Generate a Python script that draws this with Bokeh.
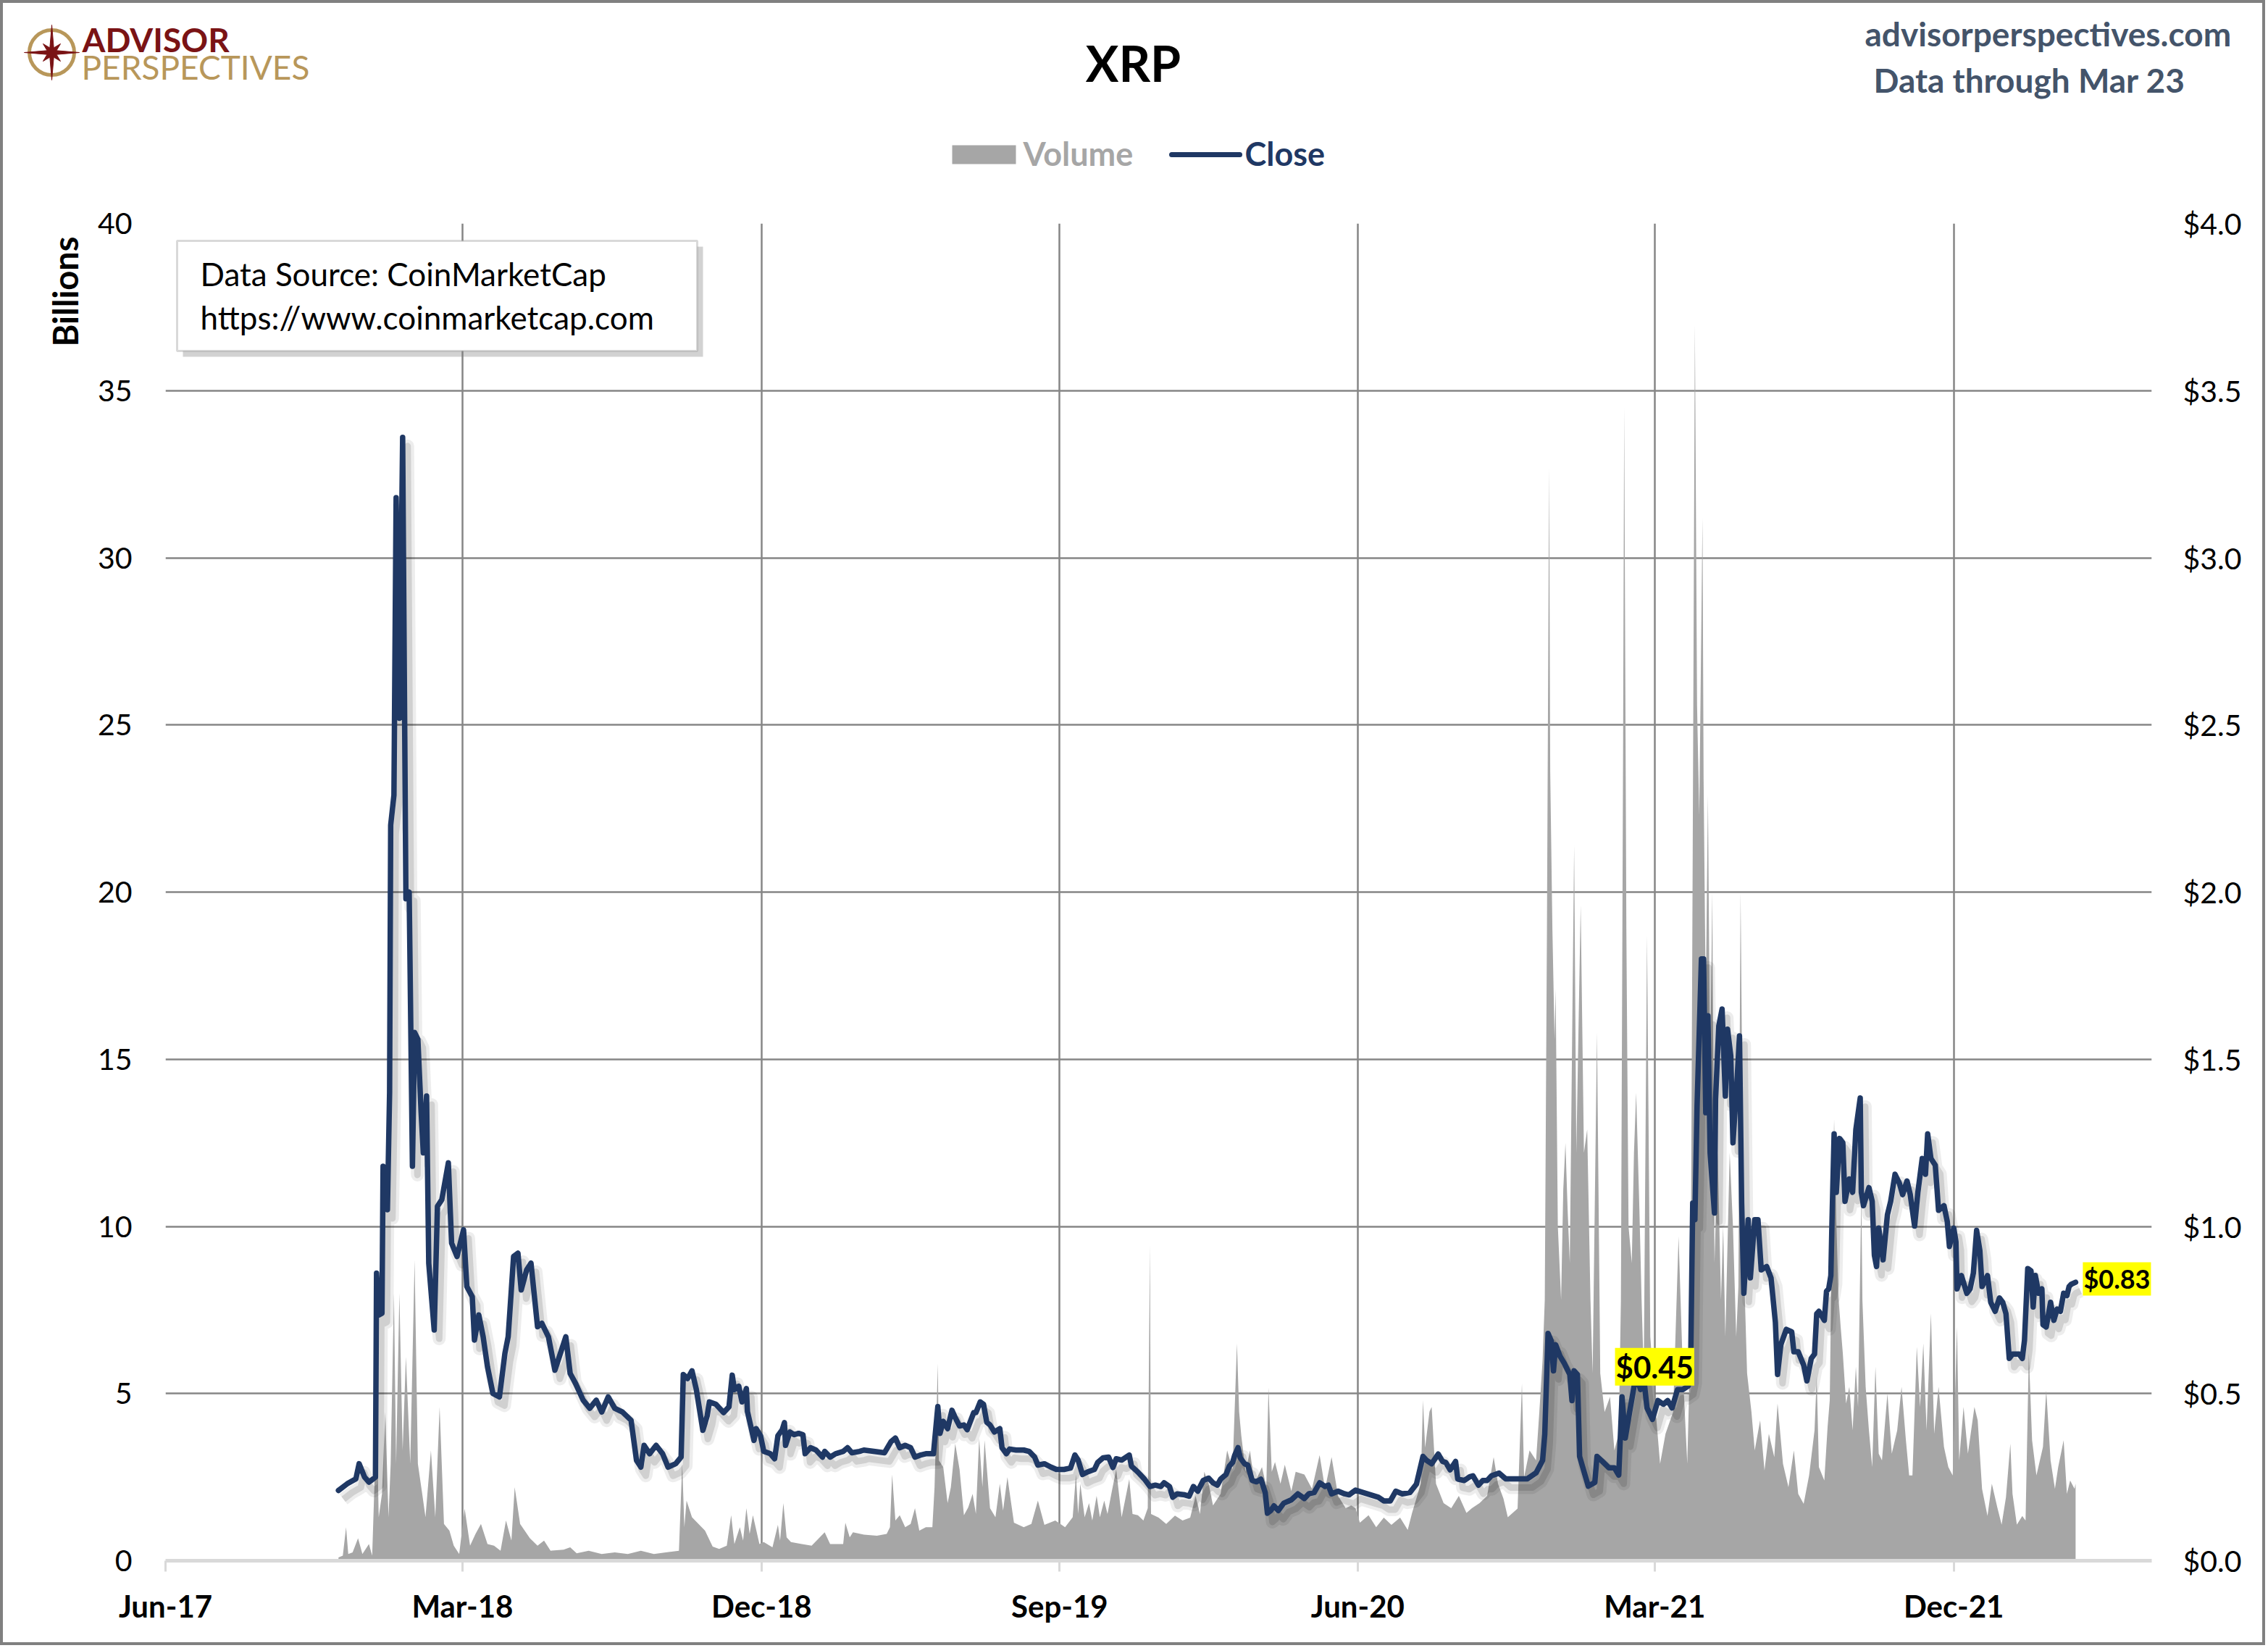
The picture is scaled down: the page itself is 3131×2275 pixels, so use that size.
import numpy as np
import pandas as pd
from bokeh.plotting import figure
from bokeh.layouts import column
from bokeh.models import (Range1d, LinearAxis, FixedTicker, NumeralTickFormatter,
                          DatetimeTickFormatter, Label, BoxAnnotation, Title)
from bokeh.embed import file_html
from bokeh.resources import INLINE

# ---------------- data ----------------
x_start, x_end = "2017-06-01", "2022-06-01"
tick_dates = ["2017-06-01", "2018-03-01", "2018-12-01", "2019-09-01", "2020-06-01", "2021-03-01", "2021-12-01"]
tick_labels = ["Jun-17", "Mar-18", "Dec-18", "Sep-19", "Jun-20", "Mar-21", "Dec-21"]
vol_ticks = [0, 5, 10, 15, 20, 25, 30, 35, 40]
price_ticks = [0, 0.5, 1.0, 1.5, 2.0, 2.5, 3.0, 3.5, 4.0]

close_dates = [
    "2017-11-07", "2017-11-15", "2017-11-23", "2017-11-26", "2017-12-01", "2017-12-05", "2017-12-09", "2017-12-11",
    "2017-12-12", "2017-12-14", "2017-12-17", "2017-12-18", "2017-12-22", "2017-12-24", "2017-12-25", "2017-12-28", "2017-12-30",
    "2018-01-02", "2018-01-05", "2018-01-08", "2018-01-11", "2018-01-14", "2018-01-16", "2018-01-19", "2018-01-22", "2018-01-24", "2018-01-27", "2018-01-29",
    "2018-02-03", "2018-02-06", "2018-02-10", "2018-02-16", "2018-02-19", "2018-02-24", "2018-03-02", "2018-03-05", "2018-03-10", "2018-03-12", "2018-03-16", "2018-03-20", "2018-03-24", "2018-03-29",
    "2018-04-04", "2018-04-09", "2018-04-12", "2018-04-17", "2018-04-21", "2018-04-24", "2018-04-29", "2018-05-03", "2018-05-09", "2018-05-13", "2018-05-19", "2018-05-25", "2018-05-30",
    "2018-06-04", "2018-06-08", "2018-06-13", "2018-06-20", "2018-06-26", "2018-07-02", "2018-07-07", "2018-07-13", "2018-07-19", "2018-07-26", "2018-08-03", "2018-08-08", "2018-08-12", "2018-08-15", "2018-08-20", "2018-08-26",
    "2018-09-01", "2018-09-06", "2018-09-13", "2018-09-18", "2018-09-20", "2018-09-24", "2018-09-28", "2018-10-02", "2018-10-08", "2018-10-12", "2018-10-14", "2018-10-20", "2018-10-27",
    "2018-11-01", "2018-11-04", "2018-11-06", "2018-11-10", "2018-11-13", "2018-11-17", "2018-11-18", "2018-11-21", "2018-11-24", "2018-11-26", "2018-11-30",
    "2018-12-03", "2018-12-09", "2018-12-13", "2018-12-16", "2018-12-20", "2018-12-22", "2018-12-23", "2018-12-27", "2018-12-31",
    "2019-01-04", "2019-01-08", "2019-01-10", "2019-01-15", "2019-01-20", "2019-01-26", "2019-01-28", "2019-02-02", "2019-02-07", "2019-02-14", "2019-02-18", "2019-02-22",
    "2019-03-01", "2019-03-05", "2019-03-14", "2019-03-24", "2019-03-30", "2019-04-03", "2019-04-07", "2019-04-12", "2019-04-17", "2019-04-21", "2019-04-26",
    "2019-05-01", "2019-05-08", "2019-05-12", "2019-05-14", "2019-05-17", "2019-05-21", "2019-05-25", "2019-05-28",
    "2019-06-01", "2019-06-05", "2019-06-08", "2019-06-14", "2019-06-16", "2019-06-20", "2019-06-23", "2019-06-26", "2019-06-29", "2019-07-03", "2019-07-08", "2019-07-10", "2019-07-14", "2019-07-17", "2019-07-23", "2019-07-30",
    "2019-08-04", "2019-08-09", "2019-08-12", "2019-08-18", "2019-08-24", "2019-08-29", "2019-09-05", "2019-09-11", "2019-09-15", "2019-09-18", "2019-09-22", "2019-09-27", "2019-10-03", "2019-10-06", "2019-10-11", "2019-10-16", "2019-10-20", "2019-10-23", "2019-10-28",
    "2019-11-04", "2019-11-06", "2019-11-12", "2019-11-18", "2019-11-23", "2019-11-28", "2019-12-03", "2019-12-06", "2019-12-11", "2019-12-14", "2019-12-18", "2019-12-25", "2019-12-29",
    "2020-01-02", "2020-01-06", "2020-01-11", "2020-01-16", "2020-01-20", "2020-01-24", "2020-01-27", "2020-02-01", "2020-02-04", "2020-02-07", "2020-02-09", "2020-02-12", "2020-02-14", "2020-02-18", "2020-02-21", "2020-02-25", "2020-02-29",
    "2020-03-04", "2020-03-08", "2020-03-10", "2020-03-13", "2020-03-16", "2020-03-20", "2020-03-25", "2020-04-01", "2020-04-07", "2020-04-13", "2020-04-17", "2020-04-22", "2020-04-27",
    "2020-05-02", "2020-05-05", "2020-05-08", "2020-05-14", "2020-05-20", "2020-05-24", "2020-05-30", "2020-06-06", "2020-06-13", "2020-06-20", "2020-06-25", "2020-07-01", "2020-07-06", "2020-07-12", "2020-07-19", "2020-07-25", "2020-07-31",
    "2020-08-03", "2020-08-08", "2020-08-14", "2020-08-18", "2020-08-21", "2020-08-25", "2020-08-30", "2020-09-01", "2020-09-07", "2020-09-12", "2020-09-15", "2020-09-20", "2020-09-24", "2020-09-28", "2020-10-02", "2020-10-09", "2020-10-15", "2020-10-26",
    "2020-11-04", "2020-11-12", "2020-11-18", "2020-11-20", "2020-11-23", "2020-11-26", "2020-11-28", "2020-11-30", "2020-12-04", "2020-12-08", "2020-12-13", "2020-12-15", "2020-12-17", "2020-12-20", "2020-12-22", "2020-12-26", "2020-12-30",
    "2021-01-05", "2021-01-07", "2021-01-11", "2021-01-18", "2021-01-23", "2021-01-27", "2021-01-30", "2021-02-02", "2021-02-06", "2021-02-12", "2021-02-16", "2021-02-19", "2021-02-22", "2021-02-27", "2021-03-04", "2021-03-09", "2021-03-13", "2021-03-17", "2021-03-22", "2021-03-27",
    "2021-04-01", "2021-04-03", "2021-04-05", "2021-04-07", "2021-04-09", "2021-04-13", "2021-04-15", "2021-04-17", "2021-04-19", "2021-04-21", "2021-04-25", "2021-04-26", "2021-04-29",
    "2021-05-02", "2021-05-05", "2021-05-07", "2021-05-10", "2021-05-12", "2021-05-16", "2021-05-18", "2021-05-20", "2021-05-22", "2021-05-26", "2021-05-28", "2021-06-01", "2021-06-04", "2021-06-07", "2021-06-12", "2021-06-16", "2021-06-20", "2021-06-22", "2021-06-25", "2021-06-30",
    "2021-07-05", "2021-07-07", "2021-07-11", "2021-07-16", "2021-07-19", "2021-07-23", "2021-07-26", "2021-07-28", "2021-07-30", "2021-08-04", "2021-08-06", "2021-08-08", "2021-08-10", "2021-08-11", "2021-08-13", "2021-08-15", "2021-08-18", "2021-08-21", "2021-08-23", "2021-08-27", "2021-08-30",
    "2021-09-02", "2021-09-06", "2021-09-07", "2021-09-09", "2021-09-14", "2021-09-17", "2021-09-19", "2021-09-21", "2021-09-23", "2021-09-27", "2021-10-01", "2021-10-04", "2021-10-08", "2021-10-12", "2021-10-15", "2021-10-19", "2021-10-22", "2021-10-26", "2021-10-29",
    "2021-11-02", "2021-11-05", "2021-11-07", "2021-11-10", "2021-11-14", "2021-11-17", "2021-11-22", "2021-11-25", "2021-11-27", "2021-12-01", "2021-12-03", "2021-12-04", "2021-12-08", "2021-12-13", "2021-12-16", "2021-12-19", "2021-12-22", "2021-12-25", "2021-12-27",
    "2022-01-01", "2022-01-04", "2022-01-08", "2022-01-12", "2022-01-15", "2022-01-18", "2022-01-21", "2022-01-24", "2022-01-30", "2022-02-02", "2022-02-04", "2022-02-07", "2022-02-10", "2022-02-12", "2022-02-14", "2022-02-17", "2022-02-20", "2022-02-21", "2022-02-24", "2022-02-28",
    "2022-03-03", "2022-03-06", "2022-03-09", "2022-03-12", "2022-03-15", "2022-03-17", "2022-03-19", "2022-03-23",
]
close_values = [
    0.21, 0.23, 0.245, 0.29, 0.25, 0.235, 0.245, 0.25,
    0.86, 0.735, 0.74, 1.18, 1.05, 1.40, 2.20, 2.29, 3.18,
    2.52, 3.36, 1.98, 2.00, 1.18, 1.58, 1.56, 1.34, 1.22, 1.39, 0.89,
    0.69, 1.06, 1.08, 1.19, 0.95, 0.91, 0.99, 0.82, 0.79, 0.66, 0.735, 0.67, 0.58, 0.50,
    0.49, 0.62, 0.67, 0.91, 0.92, 0.81, 0.87, 0.89, 0.70, 0.71, 0.67, 0.57, 0.62,
    0.67, 0.56, 0.53, 0.48, 0.456, 0.48, 0.445, 0.49, 0.456, 0.445, 0.42, 0.30, 0.28, 0.345, 0.32, 0.345,
    0.32, 0.28, 0.29, 0.31, 0.557, 0.545, 0.568, 0.512, 0.39, 0.434, 0.475, 0.468, 0.443,
    0.46, 0.555, 0.512, 0.522, 0.475, 0.515, 0.446, 0.403, 0.36, 0.395, 0.374,
    0.327, 0.32, 0.305, 0.374, 0.392, 0.413, 0.345, 0.385, 0.377,
    0.381, 0.377, 0.32, 0.338, 0.331, 0.31, 0.327, 0.31, 0.32, 0.327, 0.338, 0.323,
    0.327, 0.331, 0.327, 0.323, 0.356, 0.367, 0.338, 0.345, 0.338, 0.31, 0.316,
    0.32, 0.32, 0.461, 0.381, 0.417, 0.395, 0.45, 0.428,
    0.403, 0.406, 0.392, 0.443, 0.443, 0.475, 0.468, 0.414, 0.406, 0.385, 0.395, 0.338, 0.32, 0.334, 0.331, 0.331,
    0.327, 0.31, 0.286, 0.29, 0.28, 0.273, 0.273, 0.277, 0.316, 0.301, 0.258, 0.266, 0.273, 0.294, 0.308, 0.31, 0.279, 0.305, 0.301,
    0.316, 0.283, 0.265, 0.244, 0.222, 0.226, 0.222, 0.233, 0.222, 0.19, 0.20, 0.197, 0.193,
    0.222, 0.208, 0.24, 0.247, 0.233, 0.226, 0.244, 0.258, 0.283, 0.294, 0.316, 0.338, 0.308, 0.29, 0.286, 0.24, 0.236,
    0.244, 0.204, 0.142, 0.15, 0.164, 0.15, 0.172, 0.182, 0.20, 0.186, 0.20, 0.204, 0.233,
    0.222, 0.226, 0.20, 0.208, 0.20, 0.197, 0.211, 0.204, 0.197, 0.19, 0.179, 0.179, 0.208, 0.20, 0.204, 0.229, 0.312,
    0.301, 0.29, 0.319, 0.297, 0.294, 0.272, 0.297, 0.244, 0.24, 0.251, 0.254, 0.226, 0.24, 0.24, 0.254, 0.262, 0.245, 0.245,
    0.245, 0.263, 0.30, 0.379, 0.68, 0.657, 0.568, 0.646, 0.612, 0.59, 0.557, 0.479, 0.568, 0.557, 0.312, 0.267, 0.223,
    0.234, 0.312, 0.30, 0.278, 0.278, 0.256, 0.49, 0.367, 0.445, 0.557, 0.512, 0.546, 0.457, 0.423, 0.479, 0.468, 0.479, 0.457, 0.512, 0.512,
    0.523, 0.557, 1.07, 1.02, 1.36, 1.80, 1.80, 1.34, 1.63, 1.22, 1.04, 1.38, 1.60,
    1.65, 1.39, 1.59, 1.51, 1.25, 1.45, 1.57, 1.07, 0.80, 1.02, 0.846, 1.02, 1.02, 0.87, 0.88, 0.846, 0.713, 0.557, 0.646, 0.692,
    0.685, 0.625, 0.625, 0.585, 0.538, 0.605, 0.618, 0.739, 0.746, 0.719, 0.806, 0.813, 0.853, 1.008, 1.277, 1.102, 1.263, 1.25, 1.075, 1.142, 1.102,
    1.29, 1.384, 1.102, 1.062, 1.116, 1.075, 0.914, 0.88, 0.995, 0.90, 1.035, 1.075, 1.156, 1.129, 1.095, 1.136, 1.095, 1.001, 1.102,
    1.203, 1.156, 1.277, 1.203, 1.183, 1.048, 1.062, 1.015, 0.94, 0.995, 0.954, 0.813, 0.853, 0.80, 0.813, 0.86, 0.988, 0.927, 0.82,
    0.853, 0.773, 0.746, 0.786, 0.773, 0.739, 0.605, 0.618, 0.618, 0.605, 0.659, 0.874, 0.867, 0.759, 0.853, 0.80, 0.813, 0.706, 0.699, 0.773,
    0.719, 0.753, 0.746, 0.80, 0.793, 0.82, 0.827, 0.833,
]

vol_dates = [
    "2017-11-07", "2017-11-11", "2017-11-14", "2017-11-16", "2017-11-20", "2017-11-25", "2017-11-29", "2017-12-05", "2017-12-08", "2017-12-10", "2017-12-12", "2017-12-14", "2017-12-17", "2017-12-20", "2017-12-23", "2017-12-25", "2017-12-28", "2017-12-30",
    "2018-01-02", "2018-01-05", "2018-01-08", "2018-01-12", "2018-01-16", "2018-01-19", "2018-01-23", "2018-01-26", "2018-01-31", "2018-02-04", "2018-02-08", "2018-02-12", "2018-02-17", "2018-02-21", "2018-02-26",
    "2018-03-03", "2018-03-08", "2018-03-13", "2018-03-18", "2018-03-24", "2018-03-30", "2018-04-05", "2018-04-10", "2018-04-15", "2018-04-18", "2018-04-23", "2018-05-02", "2018-05-09", "2018-05-15", "2018-05-21",
    "2018-06-02", "2018-06-08", "2018-06-14", "2018-06-25", "2018-07-07", "2018-07-19", "2018-07-31", "2018-08-12", "2018-08-24", "2018-09-04", "2018-09-16", "2018-09-19", "2018-09-21", "2018-09-23", "2018-09-28", "2018-10-10", "2018-10-17", "2018-10-23", "2018-10-30",
    "2018-11-03", "2018-11-06", "2018-11-11", "2018-11-14", "2018-11-17", "2018-11-20", "2018-11-23", "2018-11-29", "2018-12-03", "2018-12-11", "2018-12-16", "2018-12-18", "2018-12-21", "2018-12-24", "2018-12-28",
    "2019-01-07", "2019-01-16", "2019-01-28", "2019-02-02", "2019-02-14", "2019-02-16", "2019-02-20", "2019-02-23", "2019-03-05", "2019-03-17", "2019-03-26", "2019-03-29", "2019-03-31",
    "2019-04-03", "2019-04-07", "2019-04-12", "2019-04-17", "2019-04-21", "2019-04-25", "2019-05-01", "2019-05-07", "2019-05-09", "2019-05-12", "2019-05-13", "2019-05-17", "2019-05-21", "2019-05-24", "2019-05-28",
    "2019-06-01", "2019-06-05", "2019-06-09", "2019-06-13", "2019-06-16", "2019-06-19", "2019-06-22", "2019-06-24", "2019-06-29", "2019-07-04", "2019-07-08", "2019-07-11", "2019-07-15", "2019-07-21", "2019-07-30",
    "2019-08-06", "2019-08-12", "2019-08-18", "2019-08-28", "2019-09-06", "2019-09-13", "2019-09-16", "2019-09-18", "2019-09-20", "2019-09-24", "2019-09-28", "2019-10-01", "2019-10-05", "2019-10-08", "2019-10-12", "2019-10-15", "2019-10-19", "2019-10-23", "2019-10-28",
    "2019-11-04", "2019-11-07", "2019-11-12", "2019-11-17", "2019-11-21", "2019-11-23", "2019-11-24", "2019-12-01", "2019-12-08", "2019-12-16", "2019-12-23", "2019-12-30", "2020-01-04", "2020-01-08", "2020-01-12", "2020-01-16", "2020-01-20", "2020-01-27",
    "2020-02-02", "2020-02-07", "2020-02-11", "2020-02-13", "2020-02-15", "2020-02-19", "2020-02-23", "2020-02-27", "2020-03-05", "2020-03-09", "2020-03-11", "2020-03-14", "2020-03-17", "2020-03-22", "2020-03-26",
    "2020-04-01", "2020-04-05", "2020-04-13", "2020-04-20", "2020-04-27", "2020-05-02", "2020-05-08", "2020-05-14", "2020-05-21", "2020-05-26", "2020-05-30", "2020-06-03", "2020-06-11", "2020-06-18", "2020-06-25", "2020-07-02", "2020-07-10", "2020-07-17", "2020-07-21", "2020-07-29", "2020-07-31",
    "2020-08-02", "2020-08-06", "2020-08-08", "2020-08-12", "2020-08-19", "2020-08-26", "2020-09-02", "2020-09-09", "2020-09-14", "2020-09-21", "2020-09-28", "2020-10-04", "2020-10-08", "2020-10-13", "2020-10-17", "2020-10-26", "2020-10-30",
    "2020-11-01", "2020-11-06", "2020-11-12", "2020-11-15", "2020-11-18", "2020-11-20", "2020-11-22", "2020-11-24", "2020-11-25", "2020-11-27", "2020-11-29", "2020-11-30",
    "2020-12-02", "2020-12-05", "2020-12-07", "2020-12-09", "2020-12-11", "2020-12-13", "2020-12-17", "2020-12-19", "2020-12-23", "2020-12-26", "2020-12-29",
    "2021-01-01", "2021-01-03", "2021-01-07", "2021-01-10", "2021-01-14", "2021-01-19", "2021-01-23", "2021-01-27", "2021-01-29", "2021-01-31",
    "2021-02-01", "2021-02-03", "2021-02-05", "2021-02-08", "2021-02-10", "2021-02-12", "2021-02-15", "2021-02-17", "2021-02-19", "2021-02-22", "2021-02-25",
    "2021-03-02", "2021-03-06", "2021-03-11", "2021-03-18", "2021-03-23", "2021-03-27", "2021-03-31",
    "2021-04-03", "2021-04-05", "2021-04-07", "2021-04-09", "2021-04-11", "2021-04-12", "2021-04-14", "2021-04-15", "2021-04-17", "2021-04-19", "2021-04-21", "2021-04-23", "2021-04-25", "2021-04-28",
    "2021-05-01", "2021-05-03", "2021-05-05", "2021-05-09", "2021-05-12", "2021-05-15", "2021-05-17", "2021-05-19", "2021-05-22", "2021-05-25", "2021-05-29",
    "2021-06-01", "2021-06-06", "2021-06-10", "2021-06-14", "2021-06-19", "2021-06-22", "2021-06-27", "2021-07-02", "2021-07-07", "2021-07-11", "2021-07-16", "2021-07-21", "2021-07-26", "2021-07-28", "2021-07-30",
    "2021-08-04", "2021-08-07", "2021-08-09", "2021-08-11", "2021-08-13", "2021-08-15", "2021-08-17", "2021-08-19", "2021-08-21", "2021-08-24", "2021-08-27", "2021-08-30",
    "2021-09-02", "2021-09-04", "2021-09-07", "2021-09-08", "2021-09-11", "2021-09-14", "2021-09-17", "2021-09-20", "2021-09-23", "2021-09-26", "2021-10-01", "2021-10-05", "2021-10-10", "2021-10-14", "2021-10-18", "2021-10-21", "2021-10-24", "2021-10-28", "2021-10-31",
    "2021-11-03", "2021-11-06", "2021-11-10", "2021-11-13", "2021-11-17", "2021-11-22", "2021-11-26", "2021-11-30", "2021-12-04", "2021-12-06", "2021-12-10", "2021-12-14", "2021-12-20", "2021-12-23", "2021-12-27",
    "2022-01-01", "2022-01-05", "2022-01-10", "2022-01-14", "2022-01-18", "2022-01-22", "2022-01-24", "2022-01-28", "2022-02-02", "2022-02-05", "2022-02-08", "2022-02-11", "2022-02-15", "2022-02-21", "2022-02-24", "2022-02-28",
    "2022-03-04", "2022-03-07", "2022-03-12", "2022-03-15", "2022-03-18", "2022-03-22", "2022-03-23",
]
vol_values = [
    0.10, 0.15, 1.00, 0.20, 0.25, 0.67, 0.20, 0.50, 0.15, 2.20, 4.50, 1.30, 2.00, 4.45, 1.30, 2.90, 8.00, 2.90,
    8.00, 3.30, 6.10, 2.90, 9.00, 2.90, 2.00, 1.30, 3.30, 1.30, 4.60, 1.10, 0.90, 0.45, 0.20,
    1.56, 0.45, 0.80, 1.10, 0.50, 0.45, 0.30, 1.20, 0.60, 2.20, 1.10, 0.67, 0.45, 0.60, 0.30,
    0.33, 0.40, 0.22, 0.30, 0.20, 0.25, 0.20, 0.30, 0.20, 0.25, 0.30, 2.90, 1.00, 1.80, 1.30, 0.90, 0.42, 0.35, 0.45,
    1.36, 0.50, 1.00, 0.60, 1.57, 0.80, 1.36, 0.50, 0.56, 0.40, 1.07, 0.60, 1.72, 0.70, 0.56,
    0.50, 0.45, 0.85, 0.50, 0.50, 1.14, 0.70, 0.85, 0.78, 0.75, 0.80, 1.00, 2.58,
    1.20, 1.36, 1.00, 1.10, 1.57, 0.90, 1.00, 1.00, 2.20, 5.90, 3.00, 2.80, 1.72, 2.20, 3.50,
    2.73, 1.36, 1.60, 2.00, 1.40, 3.67, 2.20, 3.60, 1.57, 1.30, 2.30, 1.50, 2.50, 1.14, 1.00,
    1.10, 1.80, 1.07, 1.20, 1.00, 1.30, 2.58, 1.40, 2.30, 1.30, 1.72, 1.20, 1.94, 1.30, 1.80, 1.40, 2.08, 2.73, 1.30,
    2.44, 1.40, 1.36, 1.20, 1.57, 9.44, 1.40, 1.29, 1.10, 1.35, 1.20, 1.29, 1.94, 1.40, 2.66, 2.30, 1.65, 2.00,
    3.30, 2.73, 6.50, 4.46, 3.74, 2.66, 3.30, 2.30, 2.80, 2.22, 5.18, 2.66, 2.95, 2.30, 2.87,
    2.08, 2.66, 2.58, 2.15, 3.16, 2.15, 3.10, 1.94, 1.57, 1.65, 1.57, 1.14, 1.36, 1.00, 1.29, 1.07, 1.29, 0.92, 1.43, 2.30, 4.80,
    3.38, 4.46, 4.60, 2.30, 1.72, 1.57, 1.94, 1.43, 1.57, 1.72, 1.94, 3.10, 2.30, 1.86, 1.30, 1.56, 5.30,
    2.50, 3.30, 3.00, 4.45, 6.00, 7.80, 18.9, 32.7, 23.6, 18.9, 15.6, 17.1,
    10.0, 7.8, 11.1, 12.5, 10.5, 8.9, 21.4, 12.2, 19.6, 12.2, 12.9,
    7.8, 5.6, 15.8, 5.6, 4.45, 4.9, 3.3, 3.8, 7.8, 24.3,
    34.5, 18.9, 10.0, 8.9, 12.2, 14.0, 10.5, 7.8, 5.6, 18.7, 6.7,
    4.45, 2.9, 3.8, 4.45, 9.7, 5.6, 2.9,
    6.7, 21.2, 37.0, 25.6, 22.3, 25.2, 31.2, 23.4, 16.7, 22.9, 14.5, 20.0, 8.9, 12.2,
    7.8, 10.0, 6.7, 12.2, 10.0, 6.7, 8.2, 20.0, 8.9, 5.6, 4.45,
    3.3, 4.2, 2.7, 3.8, 3.1, 4.7, 2.9, 2.2, 3.3, 2.0, 1.7, 2.55, 3.9, 5.5, 2.8,
    2.4, 4.0, 4.8, 9.9, 13.2, 10.2, 7.9, 7.0, 6.2, 4.7, 5.2, 3.9,
    5.8, 4.6, 10.9, 7.8, 5.2, 3.9, 2.8, 5.8, 3.2, 3.0, 5.0, 3.2, 3.9, 5.2, 3.6, 2.55, 2.55, 6.4, 4.6,
    6.5, 3.9, 7.4, 3.8, 5.2, 3.4, 2.8, 2.55, 7.0, 3.0, 4.6, 3.2, 4.6, 4.2, 2.15,
    1.34, 2.3, 1.6, 1.08, 1.9, 3.5, 2.0, 1.08, 1.34, 1.2, 6.2, 3.6, 2.55, 3.4, 5.1, 3.0,
    2.15, 2.8, 3.6, 2.0, 2.4, 2.15, 2.3,
]

ann_dates = ["2021-03-01", "2022-03-23"]
ann_values = [0.45, 0.83]

assert len(close_dates) == len(close_values)
assert len(vol_dates) == len(vol_values)

# ---------------- styling ----------------
FONT = "Lato"
VOL_COLOR = "#A6A6A6"
CLOSE_COLOR = "#1F3864"
GRID_COLOR = "#868686"
SLATE = "#44546A"
RED = "#7A1315"
GOLD = "#B8975A"


def ms(d):
    return pd.Timestamp(d).value / 1e6


cd = pd.to_datetime(close_dates)
cv = np.array(close_values)
vd = pd.to_datetime(vol_dates)
vv = np.array(vol_values)

W = 3119          # width of both figures
HH = 242          # header height
HM = 2021         # main figure height
OX = 6            # page offset of the layout content

# ---------------- header figure (title, logo, legend) ----------------
h = figure(width=W, height=HH, output_backend="svg", toolbar_location=None, title=None,
           x_range=Range1d(0, W), y_range=Range1d(HH, 0),
           x_axis_location=None, y_axis_location=None, min_border=0)
h.frame_align = False
h.grid.visible = False
h.outline_line_color = None
h.background_fill_color = "white"
h.border_fill_color = "white"


def htext(t, px, py, size, color="black", bold=False, align="left"):
    h.add_layout(Label(x=px - OX, y=py - OX, text=t, text_font=FONT,
                       text_font_size=f"{size}px",
                       text_font_style="bold" if bold else "normal",
                       text_color=color, text_align=align, text_baseline="middle"))


htext("XRP", 1566, 88, 68, bold=True, align="center")
htext("advisorperspectives.com", 2576, 48, 46, color=SLATE, bold=True)
htext("Data through Mar 23", 2588, 112, 46, color=SLATE, bold=True)

# logo: compass ring and star
lcx, lcy = 73 - OX, 74 - OX
h.circle(x=[lcx], y=[lcy], radius=31, fill_alpha=0, line_color=GOLD, line_width=5)
star_r = np.array([38, 7, 17, 7] * 4)
star_a = np.pi / 2 + np.arange(16) * np.pi / 8
h.patch(lcx + star_r * np.cos(star_a), lcy + star_r * np.sin(star_a),
        fill_color=RED, line_color=RED, line_width=1)
htext("ADVISOR", 115, 56, 46, color=RED, bold=True)
htext("PERSPECTIVES", 114, 94, 46, color=GOLD)

# legend
h.quad(left=[1316 - OX], right=[1404 - OX], top=[202 - OX], bottom=[228 - OX],
       fill_color=VOL_COLOR, line_color=None)
htext("Volume", 1414, 213, 45, color=VOL_COLOR, bold=True)
h.line(x=[1619 - OX, 1713 - OX], y=[215 - OX, 215 - OX], line_color=CLOSE_COLOR,
       line_width=7, line_cap="round")
htext("Close", 1720, 213, 45, color=CLOSE_COLOR, bold=True)

# ---------------- main figure ----------------
p = figure(width=W, height=HM, output_backend="svg", toolbar_location=None, title=None,
           x_axis_type="datetime",
           x_range=Range1d(ms(x_start), ms(x_end)), y_range=Range1d(0, 40),
           min_border_left=224, min_border_right=153, min_border_top=62, min_border_bottom=113)
p.frame_align = False
p.extra_y_ranges = {"price": Range1d(0, 4)}
p.background_fill_color = "white"
p.border_fill_color = "white"
p.outline_line_color = None

xt = FixedTicker(ticks=[ms(d) for d in tick_dates])
xa = p.xaxis[0]
xa.ticker = xt
xa.formatter = DatetimeTickFormatter(days="%b-%y", months="%b-%y", years="%b-%y")
xa.major_label_overrides = {ms(d): lab for d, lab in zip(tick_dates, tick_labels)}
xa.axis_line_color = "#D9D9D9"
xa.axis_line_width = 5
xa.major_tick_line_color = "#D9D9D9"
xa.major_tick_line_width = 3
xa.major_tick_out = 15
xa.major_tick_in = 0
xa.minor_tick_line_color = None
xa.major_label_text_font = FONT
xa.major_label_text_font_size = "42px"
xa.major_label_text_font_style = "bold"
xa.major_label_text_color = "black"
xa.major_label_standoff = 22

ya = p.yaxis[0]
ya.ticker = FixedTicker(ticks=vol_ticks)
ya.axis_line_color = None
ya.major_tick_line_color = None
ya.minor_tick_line_color = None
ya.major_tick_out = 0
ya.major_tick_in = 0
ya.major_label_text_font = FONT
ya.major_label_text_font_size = "41px"
ya.major_label_text_color = "black"
ya.major_label_standoff = 46

ra = LinearAxis(y_range_name="price", ticker=FixedTicker(ticks=price_ticks),
                formatter=NumeralTickFormatter(format="$0.0"))
ra.axis_line_color = None
ra.major_tick_line_color = None
ra.minor_tick_line_color = None
ra.major_tick_out = 0
ra.major_tick_in = 0
ra.major_label_text_font = FONT
ra.major_label_text_font_size = "41px"
ra.major_label_text_color = "black"
ra.major_label_standoff = 43
p.add_layout(ra, "right")

p.add_layout(Title(text="Billions", align="right", offset=18, standoff=28,
                   text_font=FONT, text_font_size="47px", text_font_style="bold",
                   text_color="black"), "left")

p.xgrid.ticker = xt
p.ygrid.ticker = FixedTicker(ticks=vol_ticks)
for g in (p.xgrid, p.ygrid):
    g.grid_line_color = GRID_COLOR
    g.grid_line_width = 2.5

# glyphs
p.varea(x=vd, y1=0, y2=vv, fill_color=VOL_COLOR)
sh_x = cd + pd.Timedelta(hours=110)
sh_y = cv - 0.026
p.line(sh_x, sh_y, y_range_name="price", line_color="black", line_alpha=0.07,
       line_width=18, line_join="round")
p.line(sh_x, sh_y, y_range_name="price", line_color="black", line_alpha=0.12,
       line_width=9, line_join="round")
p.line(cd, cv, y_range_name="price", line_color=CLOSE_COLOR, line_width=7.5,
       line_join="round", line_cap="round")

# data source box (inside the plot area)
p.add_layout(BoxAnnotation(left=24, right=742, bottom=1662, top=1814,
                           left_units="screen", right_units="screen",
                           top_units="screen", bottom_units="screen",
                           fill_color="#7F7F7F", fill_alpha=0.35, line_color=None))
p.add_layout(BoxAnnotation(left=16, right=734, bottom=1670, top=1822,
                           left_units="screen", right_units="screen",
                           top_units="screen", bottom_units="screen",
                           fill_color="white", fill_alpha=1, line_color="#808080", line_width=3))
for t, sy in (("Data Source: CoinMarketCap", 1777), ("https://www.coinmarketcap.com", 1717)):
    p.add_layout(Label(x=48, y=sy, x_units="screen", y_units="screen", text=t,
                       text_font=FONT, text_font_size="44px", text_color="black",
                       text_baseline="middle"))

# value annotations
styles = [(0, 60, "center", 42), (10, 6, "left", 36)]
for d, v, (xo, yo, al, fs) in zip(ann_dates, ann_values, styles):
    p.add_layout(Label(x=ms(d), y=v, y_range_name="price", x_offset=xo, y_offset=yo,
                       text=f"${v:.2f}", text_font=FONT, text_font_size=f"{fs}px",
                       text_font_style="bold", text_color="black", text_align=al,
                       text_baseline="middle", background_fill_color="#FFFF00",
                       background_fill_alpha=1, padding=1))

layout = column(h, p, spacing=0, styles={"border": "4px solid #808080"})

html = file_html(layout, INLINE, title="XRP")
with open("out.html", "w") as f:
    f.write(html)
